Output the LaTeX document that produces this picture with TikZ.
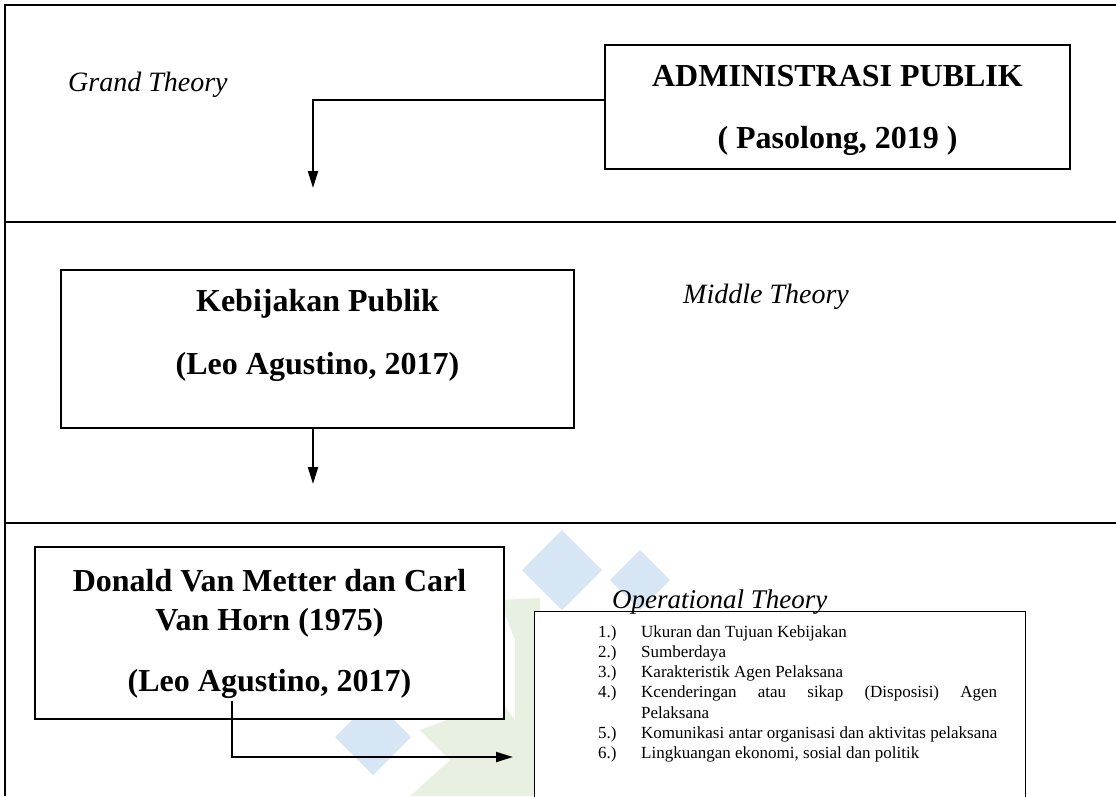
\documentclass[tikz,border=0pt]{standalone}
\usepackage{fontspec}
\setmainfont{Liberation Serif}
\usetikzlibrary{arrows.meta}
\definecolor{wmblue}{RGB}{214,230,244}
\definecolor{wmgreen}{RGB}{232,241,225}
\begin{document}
\begin{tikzpicture}[x=1pt,y=-1pt,
  frame/.style={line width=2.6pt},
  thinframe/.style={line width=1.5pt},
  box/.style={draw, line width=1.1pt, fill=white, inner sep=0pt},
  conn/.style={line width=2pt, -{Triangle[length=17pt,width=10pt]}},
  bigtxt/.style={align=center, inner sep=0pt},
  theory/.style={font=\itshape\fontsize{28}{32}\selectfont, inner sep=0pt, anchor=west},
  wmb/.style={fill=wmblue, draw=none},
  wmg/.style={fill=wmgreen, draw=none},
]
\useasboundingbox (0,0) rectangle (1116,796);
% watermark
\fill[wmb] (562,530) -- (602,570) -- (562,610) -- (522,570) -- cycle;
\fill[wmb] (640,550) -- (670,580) -- (640,610) -- (610,580) -- cycle;
\fill[wmb] (373,699) -- (411,737) -- (373,775) -- (335,737) -- cycle;
\fill[wmg] (500,600) -- (540,598) -- (540,796) -- (515,796) -- (515,640) -- cycle;
\fill[wmg] (420,730) -- (500,700) -- (515,720) -- (515,796) -- (410,796) -- (450,760) -- cycle;
\fill[wmg] (335,690) -- (385,655) -- (425,700) -- (345,712) -- cycle;
% frame
\draw[frame] (4,5) -- (1116,5);
\draw[thinframe] (5,5) -- (5,796);
\draw[frame] (5,222) -- (1116,222);
\draw[frame] (5,523) -- (1116,523);
% section 1
\node[theory] (grand) at (68,85) {Grand Theory};
\node[box, minimum width=465pt, minimum height=124pt] (adm) at (837.5,107) {};
\node[bigtxt, font=\bfseries\fontsize{32}{62}\selectfont] (admt) at (837.5,110) {ADMINISTRASI PUBLIK\\( Pasolong, 2019 )};
\coordinate (c1end) at (313,188);
\draw[conn] ([yshift=7pt]adm.west) -| (c1end);
% section 2
\node[box, minimum width=513pt, minimum height=158pt] (keb) at (317.5,349) {};
\node[bigtxt, font=\bfseries\fontsize{32}{63}\selectfont] (kebt) at (317.5,335.5) {Kebijakan Publik\\(Leo Agustino, 2017)};
\node[theory] (middle) at (683,297) {Middle Theory};
\coordinate (c2end) at (313,484);
\draw[conn] (keb.south -| c2end) -- (c2end);
% section 3
\node[box, minimum width=469pt, minimum height=172pt] (don) at (269.5,633) {};
\node[bigtxt, font=\bfseries\fontsize{32}{39}\selectfont] (dont) at (269.5,634) {Donald Van Metter dan Carl\\Van Horn (1975)\\[22pt](Leo Agustino, 2017)};
\node[box, draw=none, minimum width=490pt, minimum height=184pt] (lst) at (780,704) {};
\draw[line width=1.1pt] (lst.south west) |- (lst.north east) -- (lst.south east);
\node[theory, font=\itshape\fontsize{27}{32}\selectfont] (oper) at (612,602) {Operational Theory};
\node[anchor=north west, inner sep=0pt, align=left, font=\fontsize{17}{20.3}\selectfont] (items) at (598,625) {%
\makebox[43pt][l]{1.)}Ukuran dan Tujuan Kebijakan\\
\makebox[43pt][l]{2.)}Sumberdaya\\
\makebox[43pt][l]{3.)}Karakteristik Agen Pelaksana\\
\makebox[43pt][l]{4.)}\makebox[356pt][s]{Kcenderingan atau sikap (Disposisi) Agen}\\
\makebox[43pt][l]{}Pelaksana\\
\makebox[43pt][l]{5.)}Komunikasi antar organisasi dan aktivitas pelaksana\\
\makebox[43pt][l]{6.)}Lingkuangan ekonomi, sosial dan politik};
\coordinate (c3s) at (232,701);
\coordinate (c3e) at (513,757);
\draw[conn] (c3s) |- (c3e);
\end{tikzpicture}
\end{document}
